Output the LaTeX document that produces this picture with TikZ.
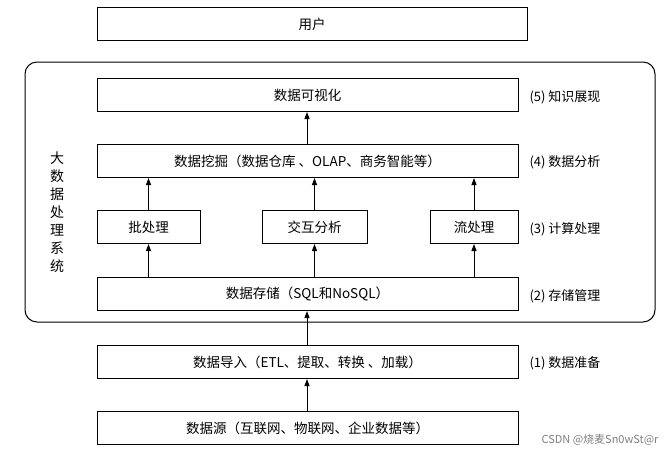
\documentclass[tikz,border=0pt]{standalone}
\usepackage{fontspec}
\setmainfont{Noto Sans CJK SC}
\usetikzlibrary{arrows.meta}
\begin{document}
\begin{tikzpicture}[x=1pt,y=-1pt,
  bx/.style={draw,line width=1pt,minimum height=33pt,inner sep=0pt,font=\fontsize{13.5}{15}\selectfont},
  lb/.style={font=\fontsize{13}{15}\selectfont,anchor=west},
  ar/.style={-{Triangle[length=7pt,width=5pt]},line width=1pt}]
\useasboundingbox[fill=white] (0,0) rectangle (670,459);
\draw[line width=1pt,rounded corners=12pt] (25,62) rectangle (655,322);
\node[bx,minimum width=430pt] (user) at (312,24) {用户};
\node[bx,minimum width=421pt] (vis) at (307.5,95) {数据可视化};
\node[bx,minimum width=421pt] (mine) at (307.5,161) {数据挖掘（数据仓库 、OLAP、商务智能等）};
\node[bx,minimum width=103pt] (batch) at (148.5,227) {批处理};
\node[bx,minimum width=105pt] (inter) at (314.5,227) {交互分析};
\node[bx,minimum width=88pt] (stream) at (474,227) {流处理};
\node[bx,minimum width=421pt] (store) at (307.5,294) {数据存储（SQL和NoSQL）};
\node[bx,minimum width=421pt] (imp) at (307.5,362) {数据导入（ETL、提取、转换 、加载）};
\node[bx,minimum width=421pt] (src) at (307.5,428) {数据源（互联网、物联网、企业数据等）};
\node[lb] (l5) at (526,97) {(5) 知识展现};
\node[lb] (l4) at (526,162) {(4) 数据分析};
\node[lb] (l3) at (526,229) {(3) 计算处理};
\node[lb] (l2) at (526,296) {(2) 存储管理};
\node[lb] (l1) at (526,363) {(1) 数据准备};
\node[font=\fontsize{14}{18}\selectfont,align=center] (sys) at (57,212) {大\\数\\据\\处\\理\\系\\统};
\node[font=\fontsize{11}{13}\selectfont,text=gray,anchor=east] (wm) at (662,440) {CSDN @烧麦Sn0wSt@r};
\draw[ar] (src.north -| 307,0) -- (imp.south -| 307,0);
\draw[ar] (imp.north -| 307,0) -- (store.south -| 307,0);
\draw[ar] (store.north -| batch) -- (batch.south);
\draw[ar] (store.north -| inter) -- (inter.south);
\draw[ar] (store.north -| stream) -- (stream.south);
\draw[ar] (batch.north) -- (mine.south -| batch);
\draw[ar] (inter.north) -- (mine.south -| inter);
\draw[ar] (stream.north) -- (mine.south -| stream);
\draw[ar] (mine.north -| 307,0) -- (vis.south -| 307,0);
\end{tikzpicture}
\end{document}
